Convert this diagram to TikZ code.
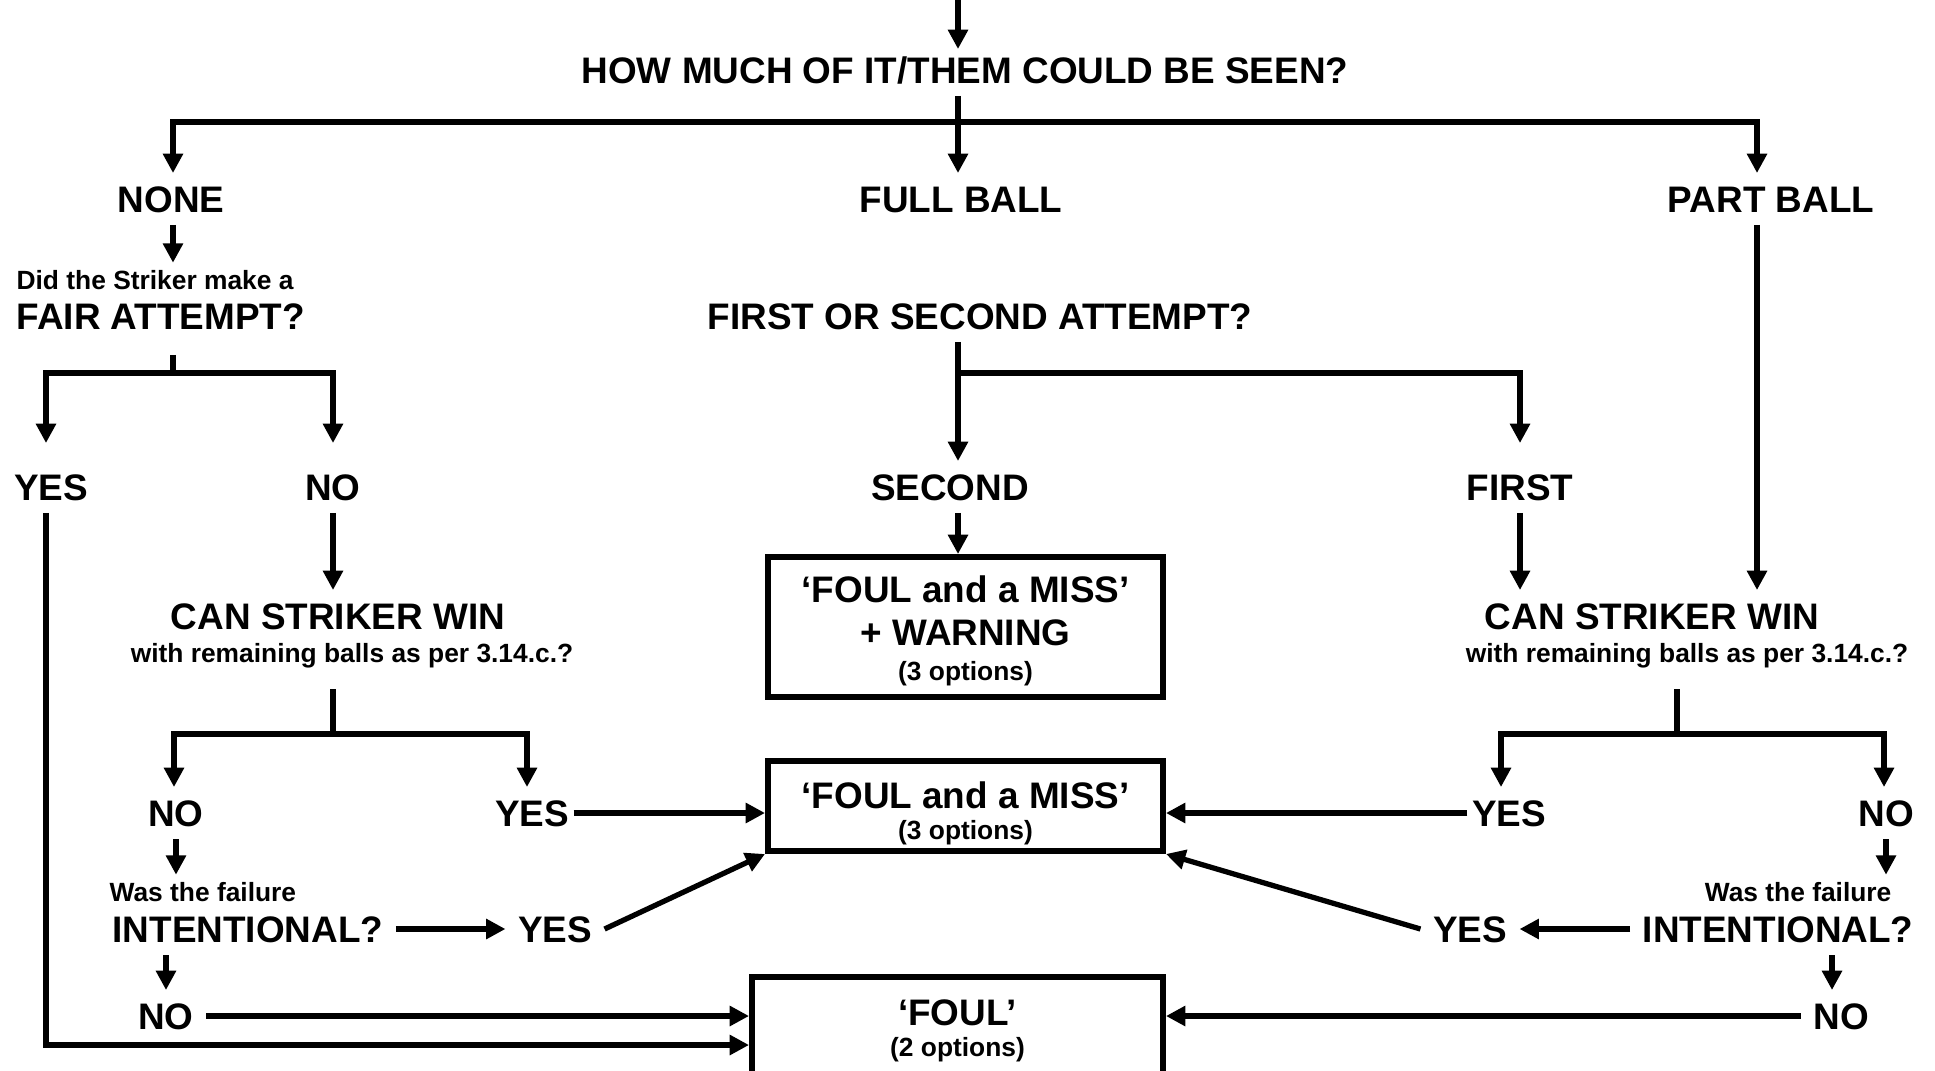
\documentclass[tikz,border=0pt]{standalone}
\usepackage{fontspec}
\setmainfont{Liberation Sans}
\usepackage{tikz}
\usetikzlibrary{arrows.meta}
\newcommand{\optfont}{\fontsize{7.5}{9}\selectfont}
\tikzset{
	big/.style={font=\fontsize{10.5}{12}\selectfont\bfseries,inner xsep=0.1cm,inner ysep=0.1cm,text height=7.6pt,text depth=0pt},
	sml/.style={font=\fontsize{7.5}{9}\selectfont\bfseries,inner xsep=0.1cm,inner ysep=0.05cm,text height=5.5pt,text depth=0pt},
	box/.style={draw,line width=1.7pt,align=center,font=\fontsize{10.5}{12}\selectfont\bfseries,inner sep=0pt}
}
\begin{document}
\begin{tikzpicture}[>={Triangle[length=5.5pt,width=5.5pt]},line width=1.5pt]
			\useasboundingbox(0,0)rectangle(19.35,10.70);
			\coordinate(start)at(9.58,10.70);
			\node[big](seen)at(9.65,10.00){HOW MUCH OF IT/THEM COULD BE SEEN?};
			\node[big](none)at(1.71,8.71){NONE};
			\node[big](full)at(9.61,8.71){FULL BALL};
			\node[big](part)at(17.71,8.71){PART BALL};
			\node[sml,anchor=west](fairq)at(0.04,7.90){Did the Striker make a};
			\node[big,anchor=west](fair)at(0.04,7.54){FAIR ATTEMPT?};
			\node[big](attempt)at(9.80,7.54){FIRST OR SECOND ATTEMPT?};
			\node[big](yes1)at(0.51,5.83){YES};
			\node[big](no1)at(3.33,5.83){NO};
			\node[big](second)at(9.50,5.83){SECOND};
			\node[big](first)at(15.20,5.83){FIRST};
			\node[big](canl)at(3.38,4.54){CAN STRIKER WIN};
			\node[sml](canlb)at(3.52,4.17){with remaining balls as per 3.14.c.?};
			\node[big](canr)at(16.52,4.54){CAN STRIKER WIN};
			\node[sml](canrb)at(16.87,4.17){with remaining balls as per 3.14.c.?};
			\node[big](no2)at(1.76,2.57){NO};
			\node[big](yes2)at(5.32,2.57){YES};
			\node[big](yes3)at(15.09,2.57){YES};
			\node[big](no3)at(18.86,2.57){NO};
			\node[sml,anchor=west](wasl)at(0.97,1.78){Was the failure};
			\node[big,anchor=west](intl)at(1.00,1.41){INTENTIONAL?};
			\node[big](yes4)at(5.55,1.41){YES};
			\node[big](no4)at(1.66,0.54){NO};
			\node[sml,anchor=east](wasr)at(19.04,1.78){Was the failure};
			\node[big,anchor=east](intr)at(19.26,1.41){INTENTIONAL?};
			\node[big](yes5)at(14.70,1.41){YES};
			\node[big](no5)at(18.41,0.54){NO};
			\node[box,minimum width=3.95cm,minimum height=1.40cm](warn)at(9.655,4.43){\rule{0pt}{9.8pt}‘FOUL and a MISS’\\+ WARNING\\[-2pt]{\optfont(3 options)}};
			\node[box,minimum width=3.95cm,minimum height=0.90cm](miss)at(9.655,2.64){\rule{0pt}{11.7pt}‘FOUL and a MISS’\\[-3pt]{\optfont(3 options)}};
			\node[box,minimum width=4.11cm,minimum height=1.08cm](foul)at(9.575,0.39){‘FOUL’\\[-3pt]{\optfont(2 options)}};
			\coordinate(b0)at(9.58,9.48);
			\coordinate(bl)at(1.73,9.48);
			\coordinate(br)at(17.57,9.48);
			\coordinate(f0)at(1.73,6.97);
			\coordinate(fl)at(0.46,6.97);
			\coordinate(fr)at(3.33,6.97);
			\coordinate(a0)at(9.58,6.97);
			\coordinate(c0)at(3.33,3.36);
			\coordinate(cl)at(1.74,3.36);
			\coordinate(cr)at(5.27,3.36);
			\coordinate(d0)at(16.77,3.36);
			\coordinate(dl)at(15.01,3.36);
			\coordinate(dr)at(18.84,3.36);
			\draw[->,shorten >=-0.05cm](start)--(start |- seen.north);
			\draw(b0 |- seen.south)--(b0);
			\draw[->](b0)-|(bl |- none.north);
			\draw[->](b0)-|(br |- part.north);
			\draw[->](b0)--(b0 |- full.north);
			\draw[->](bl |- none.south)--(bl |- fairq.north);
			\draw[shorten <=0.13cm](f0 |- fair.south)--(f0);
			\draw[->,shorten >=0.18cm](f0)-|(fl |- yes1.north);
			\draw[->,shorten >=0.18cm](f0)-|(fr |- no1.north);
			\draw[->](yes1.south -| fl)|-([yshift=-0.14cm]foul.west);
			\draw[->](no1.south)--(no1.south |- canl.north);
			\draw[shorten <=0.19cm](c0 |- canlb.south)--(c0);
			\draw[->](c0)-|(cl |- no2.north);
			\draw[->](c0)-|(cr |- yes2.north);
			\draw[->,shorten <=-0.08cm](yes2.east)--(yes2.east -| miss.west);
			\draw[->](no2.south)--(no2.south |- wasl.north);
			\draw[->](intl.east)--(yes4.west);
			\draw[->](yes4.east)--(miss.south west);
			\draw[->](no4 |- intl.south)--(no4.north);
			\draw[->](no4.east)--(no4.east -| foul.west);
			\draw[->](a0 |- attempt.south)--(a0 |- second.north);
			\draw[->,shorten >=0.18cm](a0)-|(first.north);
			\draw[->](a0 |- second.south)--(a0 |- warn.north);
			\draw[->](first.south)--(first.south |- canr.north);
			\draw[->](br |- part.south)--(br |- canr.north);
			\draw[shorten <=0.19cm](d0 |- canrb.south)--(d0);
			\draw[->](d0)-|(dl |- yes3.north);
			\draw[->](d0)-|(dr |- no3.north);
			\draw[->,shorten <=-0.08cm](yes3.west)--(yes3.west -| miss.east);
			\draw[->](no3.south)--(no3.south |- wasr.north);
			\draw[->](intr.west)--(yes5.east);
			\draw[->](yes5.west)--(miss.south east);
			\draw[->]([xshift=-0.09cm]no5.north |- intr.south)--([xshift=-0.09cm]no5.north);
			\draw[->](no5.west)--(no5.west -| foul.east);
\end{tikzpicture}
\end{document}
